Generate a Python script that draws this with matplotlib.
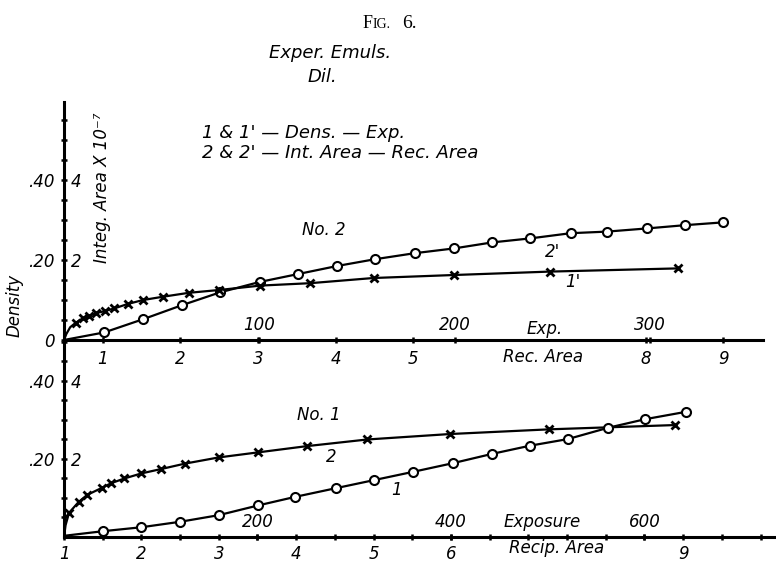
import numpy as np
import matplotlib
matplotlib.use("Agg")
import matplotlib.pyplot as plt

plt.rcParams['font.family'] = ['DejaVu Sans']
plt.rcParams['font.style'] = 'italic'
plt.rcParams['font.size'] = 12

# No. 2 (upper plot): 2' circles, 1' crosses
top_circ_x = [0.5, 1.02, 1.52, 2.02, 2.51, 3.02, 3.52, 4.02, 4.51, 5.02, 5.53, 6.02,
              6.51, 7.03, 7.50, 8.02, 8.50, 8.99]
top_circ_y = [0.0, 0.019, 0.052, 0.087, 0.119, 0.145, 0.165, 0.185, 0.202, 0.217, 0.229,
              0.244, 0.254, 0.267, 0.271, 0.279, 0.287, 0.294]
top_x_x = [0.5, 0.53, 0.58, 0.65, 0.74, 0.82, 0.91, 1.03, 1.15, 1.32, 1.52, 1.77, 2.11,
           2.50, 3.03, 3.67, 4.49, 5.53, 6.76, 8.41]
top_x_y = [0.0, 0.015, 0.032, 0.043, 0.054, 0.060, 0.067, 0.0725, 0.079, 0.090, 0.100,
           0.108, 0.118, 0.125, 0.136, 0.142, 0.155, 0.1625, 0.171, 0.179]

# No. 1 (lower plot): 2 crosses, 1 circles
bot_x_x = [1.0, 1.02, 1.065, 1.19, 1.30, 1.49, 1.61, 1.78, 2.00, 2.25, 2.56, 3.00, 3.51,
           4.14, 4.92, 5.99, 7.27, 8.90]
bot_x_y = [0.0, 0.03, 0.062, 0.09, 0.108, 0.126, 0.138, 0.150, 0.163, 0.174, 0.188, 0.204,
           0.217, 0.233, 0.250, 0.264, 0.276, 0.287]
bot_c_x = [1.0, 1.51, 2.0, 2.50, 3.0, 3.51, 3.99, 4.51, 5.01, 5.51, 6.02, 6.53, 7.02,
           7.51, 8.03, 8.51, 9.04]
bot_c_y = [0.003, 0.015, 0.025, 0.039, 0.056, 0.081, 0.103, 0.125, 0.146, 0.167, 0.189,
           0.213, 0.234, 0.251, 0.280, 0.302, 0.321]

top_rec_ticks = [1, 2, 3, 4, 5, 8, 9]
top_exp_ticks = [100, 200, 300]
bot_rec_ticks = [1, 2, 3, 4, 5, 6, 9]
bot_exp_ticks = [200, 400, 600]

W, H = 776, 562
fig = plt.figure(figsize=(W / 100, H / 100), dpi=100)

ax_top = fig.add_axes([64 / W, (H - 340) / H, 699 / W, 238 / H])
ax_bot = fig.add_axes([64 / W, (H - 537) / H, 712 / W, 197 / H])
for ax in (ax_top, ax_bot):
    ax.patch.set_visible(False)
ax_top.set_xlim(0.5, 9.51)
ax_top.set_ylim(0, 0.595)
ax_bot.set_xlim(1.0, 10.2)
ax_bot.set_ylim(0, 0.505)

line_kw = dict(color='black', lw=1.6)
circ_kw = dict(marker='o', ms=6.5, mfc='white', mec='black', mew=1.5)
cross_kw = dict(marker='x', ms=5.5, mec='black', mew=2.0)

ax_top.plot(top_circ_x, top_circ_y, markevery=list(range(1, len(top_circ_x))), **line_kw, **circ_kw)
ax_top.plot(top_x_x, top_x_y, markevery=list(range(3, len(top_x_x))), **line_kw, **cross_kw)
ax_bot.plot(bot_x_x, bot_x_y, markevery=list(range(2, len(bot_x_x))), **line_kw, **cross_kw)
ax_bot.plot(bot_c_x, bot_c_y, markevery=list(range(1, len(bot_c_x))), **line_kw, **circ_kw)


def style_axes(ax, rec_ticks, rec_minor, dens_ticks, dens_labels, exp_fwd, exp_inv, exp_ticks, pad_x):
    for s in ['top', 'right']:
        ax.spines[s].set_visible(False)
    ax.spines['left'].set_linewidth(2.2)
    ax.spines['bottom'].set_linewidth(2.2)
    ax.set_xticks(rec_ticks)
    ax.set_xticklabels([str(t) for t in rec_ticks])
    ax.set_xticks(rec_minor, minor=True)
    ax.set_yticks(dens_ticks)
    ax.set_yticklabels(dens_labels)
    ax.set_yticks(np.arange(0.05, ax.get_ylim()[1], 0.05), minor=True)
    ax.tick_params(which='both', direction='inout', length=5, width=1.8)
    ax.tick_params(axis='x', pad=pad_x, labelsize=12)
    ax.tick_params(axis='y', pad=4, labelsize=12)
    # exposure scale read above the same baseline
    sec = ax.secondary_xaxis(0, functions=(exp_fwd, exp_inv))
    sec.set_alignment('top')
    sec.set_xticks(exp_ticks)
    sec.set_xticklabels([str(t) for t in exp_ticks])
    sec.tick_params(direction='inout', length=5, width=1.8, pad=2, labelsize=12)
    for s in sec.spines.values():
        s.set_visible(False)
    # integrated area scale right of the density axis
    sy = ax.secondary_yaxis(0, functions=(lambda d: d * 10, lambda a: a / 10))
    sy.set_alignment('right')
    sy.set_yticks([2, 4])
    sy.set_yticklabels(['2', '4'])
    sy.tick_params(length=0, pad=5, labelsize=12)
    for s in sy.spines.values():
        s.set_visible(False)


style_axes(ax_top, top_rec_ticks, [], [0, 0.2, 0.4], ['0', '.20', '.40'],
           lambda r: (np.asarray(r) - 0.5) * 39.7, lambda e: 0.5 + np.asarray(e) / 39.7,
           top_exp_ticks, 5)
style_axes(ax_bot, bot_rec_ticks, np.arange(1.5, 10.1, 0.5), [0.2, 0.4], ['.20', '.40'],
           lambda r: (np.asarray(r) - 1.0) * 80, lambda e: 1.0 + np.asarray(e) / 80,
           bot_exp_ticks, 3)

# axis names sitting among the tick labels
ax_top.annotate('Rec. Area', xy=(6.68, 0), xycoords=('data', 'axes fraction'),
                xytext=(0, -12), textcoords='offset points', ha='center', va='center')
ax_top.annotate('Exp.', xy=(6.69, 0), xycoords=('data', 'axes fraction'),
                xytext=(0, 8), textcoords='offset points', ha='center', va='center')
ax_bot.annotate('Recip. Area', xy=(7.36, 0), xycoords=('data', 'axes fraction'),
                xytext=(0, -8), textcoords='offset points', ha='center', va='center')
ax_bot.annotate('Exposure', xy=(7.18, 0), xycoords=('data', 'axes fraction'),
                xytext=(0, 11), textcoords='offset points', ha='center', va='center')

# curve labels
ax_top.text(3.85, 0.275, 'No. 2', ha='center', va='center')
ax_top.text(6.80, 0.22, "2'", ha='center', va='center')
ax_top.text(7.06, 0.145, "1'", ha='center', va='center')
ax_bot.text(4.29, 0.313, 'No. 1', ha='center', va='center')
ax_bot.text(4.45, 0.205, '2', ha='center', va='center')
ax_bot.text(5.29, 0.12, '1', ha='center', va='center')

# side titles
fig.text(15 / W, 1 - 305 / H, 'Density', rotation=90, ha='center', va='center')
fig.text(102 / W, 1 - 188 / H, 'Integ. Area X 10⁻⁷', rotation=90, ha='center', va='center')

# heading
fig.text(363 / W, 1 - 23 / H, 'F', family='Liberation Serif', style='normal', size=13, va='center')
fig.text(373 / W, 1 - 24 / H, 'IG.', family='Liberation Serif', style='normal', size=10, va='center')
fig.text(402 / W, 1 - 23 / H, '6.', family='Liberation Serif', style='normal', size=14, va='center')
fig.text(330 / W, 1 - 53 / H, 'Exper. Emuls.', ha='center', va='center', size=13)
fig.text(322 / W, 1 - 77 / H, 'Dil.', ha='center', va='center', size=13)
fig.text(202 / W, 1 - 133 / H, "1 & 1' — Dens. — Exp.", ha='left', va='center', size=13)
fig.text(202 / W, 1 - 153 / H, "2 & 2' — Int. Area — Rec. Area", ha='left', va='center', size=13)

fig.savefig('out.png', dpi=100)
